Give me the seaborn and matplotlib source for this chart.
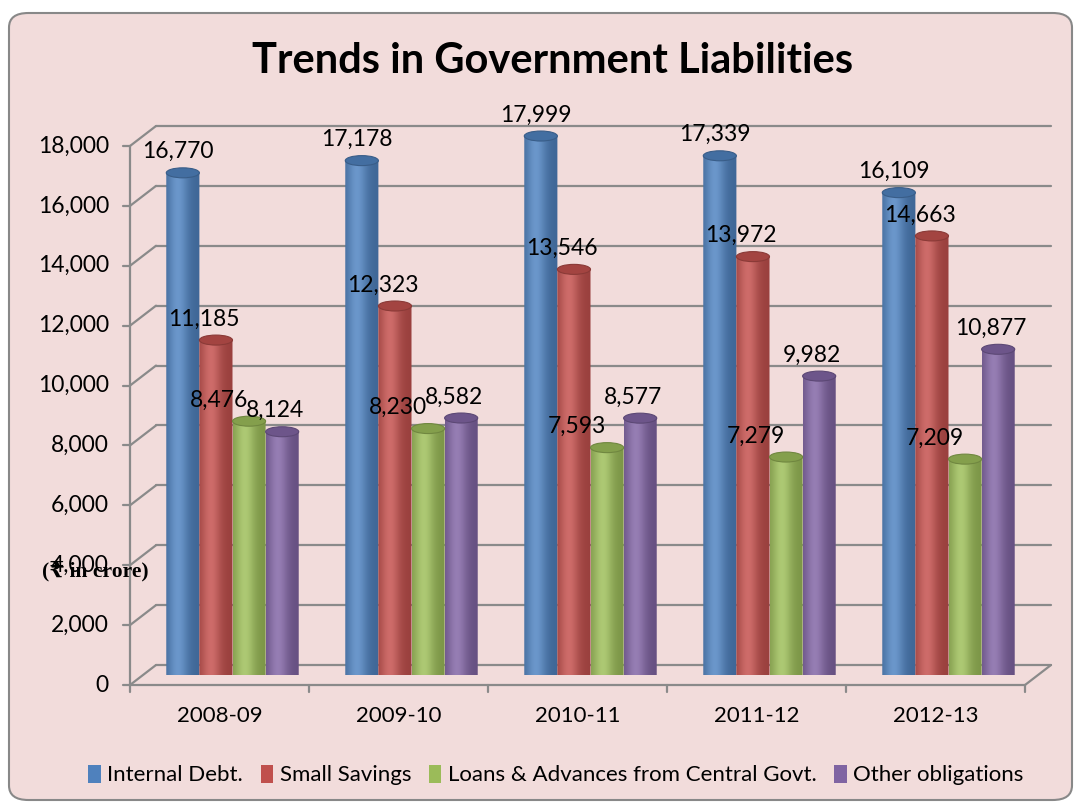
import numpy as np
import pandas as pd
import matplotlib
matplotlib.use("Agg")
import matplotlib.pyplot as plt
import seaborn as sns
from matplotlib.patches import Ellipse, FancyBboxPatch, Patch, PathPatch
from matplotlib.path import Path
from matplotlib.lines import Line2D
from matplotlib.transforms import IdentityTransform
from matplotlib.colors import to_rgb

# ---- data (₹ crore) ----
years = ["2008-09", "2009-10", "2010-11", "2011-12", "2012-13"]
series = ["Internal Debt.", "Small Savings",
          "Loans & Advances from Central Govt.", "Other obligations"]
internal_debt = [16770, 17178, 17999, 17339, 16109]
small_savings = [11185, 12323, 13546, 13972, 14663]
loans_advances = [8476, 8230, 7593, 7279, 7209]
other_obligations = [8124, 8582, 8577, 9982, 10877]
y_ticks = list(range(0, 18001, 2000))

colors = ["#4F81BD", "#C0504D", "#9BBB59", "#8064A2"]
values = [internal_debt, small_savings, loans_advances, other_obligations]

df = pd.DataFrame({
    "year": years * len(series),
    "series": np.repeat(series, len(years)),
    "value": internal_debt + small_savings + loans_advances + other_obligations,
})

W, H, DPI = 1078, 806, 100
sns.set_theme(style="white")
plt.rcParams["font.family"] = ["Lato", "DejaVu Sans"]
plt.rcParams["text.color"] = "black"

fig = plt.figure(figsize=(W / DPI, H / DPI), dpi=DPI, facecolor="white")
# rounded chart frame
fig.add_artist(FancyBboxPatch((9 / W, 6 / H), (W - 15) / W, (H - 19) / H,
                              boxstyle="round,pad=0,rounding_size=0.018",
                              transform=fig.transFigure, facecolor="#F2DCDB",
                              edgecolor="#888888", lw=1.5, zorder=-10))

# plot plane through the middle of the bar depth
ax = fig.add_axes([143 / W, (H - 675) / H, 895 / W, 539 / H])
ax.patch.set_alpha(0)
sns.barplot(data=df, x="year", y="value", hue="series", order=years,
            hue_order=series, palette=colors, saturation=1, width=0.74,
            gap=0, legend=False, errorbar=None, ax=ax, zorder=3)
for s in ax.spines.values():
    s.set_visible(False)
ax.set_xlim(-0.5, 4.5)
ax.set_ylim(0, 18000)

# cylinder shading for every bar
ell_h = 10 * 18000 / 539  # ellipse height in data units (10 px)
t = np.linspace(0, 1, 80)
light = np.exp(-((t - 0.35) / 0.30) ** 2)
for i, cont in enumerate(ax.containers):
    base = np.array(to_rgb(colors[i]))
    col = base[None, :] * (0.80 + 0.22 * light[:, None]) + \
        (1 - base[None, :]) * 0.15 * light[:, None]
    col = np.clip(col, 0, 1)[None, :, :]
    for bar in cont:
        x0, w, h = bar.get_x(), bar.get_width(), bar.get_height()
        cx = x0 + w / 2
        ang = np.linspace(np.pi, 2 * np.pi, 40)
        arc = np.column_stack([cx + w / 2 * np.cos(ang), ell_h / 2 * np.sin(ang)])
        verts = np.vstack([arc, [[x0 + w, h], [x0, h], [x0, 0]]])
        body = PathPatch(Path(verts), transform=ax.transData, facecolor="none",
                         edgecolor="none")
        ax.add_patch(body)
        im = ax.imshow(col, extent=(x0, x0 + w, -ell_h / 2, h), aspect="auto",
                       interpolation="bilinear", zorder=3.1)
        im.set_clip_box(None)
        im.set_clip_path(body)
        bar.set_visible(False)
        ax.add_patch(Ellipse((cx, h), w, ell_h, facecolor=base * 0.85,
                             edgecolor=base * 0.72, lw=0.8, zorder=3.2,
                             clip_on=False))
ax.set_xlim(-0.5, 4.5)
ax.set_ylim(0, 18000)
ax.set_xticks([])
ax.set_yticks([])
ax.set_xlabel("")
ax.set_ylabel("")

DX, DY = 13, 10  # half-depth of the 3-D box in pixels
line_col = "#8a8a8a"


def px(x, y, depth=0):
    X, Y = ax.transData.transform((x, y))
    return X + depth * DX, Y + depth * DY


def seg(p, q, zorder=1, **kw):
    ax.add_line(Line2D([p[0], q[0]], [p[1], q[1]], transform=IdentityTransform(),
                       clip_on=False, color=line_col, lw=1.6, zorder=zorder, **kw))


# back wall and side wall grid
for v in y_ticks:
    seg(px(-0.5, v, 1), px(4.5, v, 1))
    seg(px(-0.5, v, -1), px(-0.5, v, 1))
    fx, fy = px(-0.5, v, -1)
    seg((fx, fy), (fx - 7, fy), zorder=4)
    ax.text(fx - 21, fy, f"{v:,}", transform=IdentityTransform(), ha="right",
            va="center", fontsize=16.5, color="black")

# front axes and floor edge
seg(px(-0.5, 0, -1), px(-0.5, 18000, -1), zorder=4)
seg(px(-0.5, 0, -1), px(4.5, 0, -1), zorder=4)
seg(px(4.5, 0, -1), px(4.5, 0, 1), zorder=4)
for k in range(len(years) + 1):
    fx, fy = px(k - 0.5, 0, -1)
    seg((fx, fy), (fx, fy - 7), zorder=4)
for k, yr in enumerate(years):
    fx, fy = px(k, 0, -1)
    ax.text(fx, fy - 31, yr, transform=IdentityTransform(), ha="center",
            va="center", fontsize=16, color="black")

# value labels
label_dx = [-5, -12, -30, -7]
for i, cont in enumerate(ax.containers):
    for bar, v in zip(cont, values[i]):
        X, Y = px(bar.get_x() + bar.get_width() / 2, v, 0)
        ax.text(X + label_dx[i], Y + 21, f"{v:,}", transform=IdentityTransform(),
                ha="center", va="center", fontsize=16.5, color="black", zorder=6)

# unit label
fig.text(95 / W, 1 - 571 / H, "(₹ in crore)", ha="center", va="center",
         fontsize=15.5, fontweight="bold",
         family=["Liberation Serif", "DejaVu Serif", "DejaVu Sans"])

fig.text(553 / W, 1 - 61 / H, "Trends in Government Liabilities", ha="center",
         va="center", fontsize=30, fontweight="bold", color="black")

handles = [Patch(facecolor=c, edgecolor="none", label=s) for c, s in zip(colors, series)]
fig.legend(handles=handles, loc="center", bbox_to_anchor=(556 / W, 1 - 775 / H),
           ncol=4, frameon=False, fontsize=16, handlelength=0.55, handleheight=0.9,
           handletextpad=0.3, columnspacing=0.8, labelcolor="black")

fig.savefig("out.png", dpi=DPI)
